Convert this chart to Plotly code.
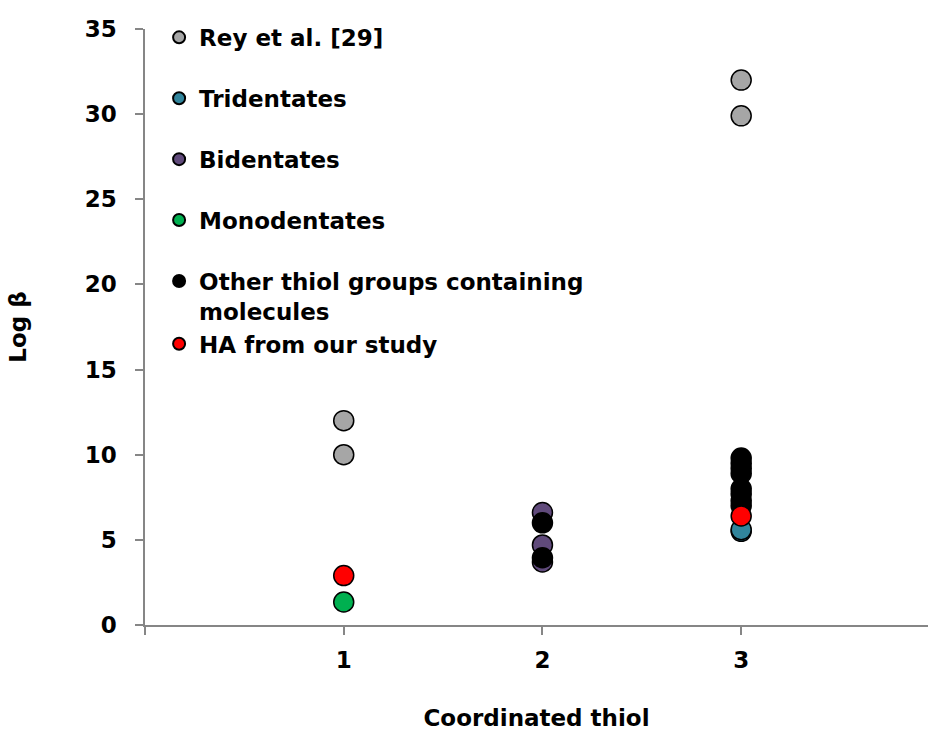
import plotly.graph_objects as go

# ---- data ----
rey_x = [1, 1, 3, 3]
rey_y = [12.0, 10.0, 32.0, 29.9]
tri_x = [3, 3]
tri_y = [5.5, 5.6]
bi_x = [2, 2, 2]
bi_y = [6.6, 4.7, 3.7]
mono_x = [1]
mono_y = [1.35]
other_x = [2, 2, 3, 3, 3, 3, 3, 3, 3, 3]
other_y = [6.0, 3.95, 9.8, 9.5, 9.2, 8.9, 8.0, 7.7, 7.3, 7.0]
ha_x = [1, 3]
ha_y = [2.9, 6.4]

x_tickvals = [0, 1, 2, 3]
x_ticktext = ["", "1", "2", "3"]
y_tickvals = [0, 5, 10, 15, 20, 25, 30, 35]

series = [
    ("Rey et al. [29]", rey_x, rey_y, "#A6A6A6", "g1"),
    ("Tridentates", tri_x, tri_y, "#31859C", "g2"),
    ("Bidentates", bi_x, bi_y, "#604A7B", "g3"),
    ("Monodentates", mono_x, mono_y, "#00B050", "g4"),
    ("Other thiol groups containing<br>molecules", other_x, other_y, "#000000", "g5"),
    ("HA from our study", ha_x, ha_y, "#FF0000", "g5"),
]

FONT = "DejaVu Sans, Liberation Sans, Arial, sans-serif"
FS = 23

fig = go.Figure()
for name, xs, ys, col, grp in series:
    fig.add_trace(go.Scatter(
        x=xs, y=ys, mode="markers", name=name, legendgroup=grp,
        marker=dict(size=20, color=col, line=dict(color="#000000", width=1.5)),
    ))

axis_col = "#868686"
fig.update_layout(
    width=928, height=731,
    margin=dict(l=145, r=0, t=29, b=106),
    paper_bgcolor="white", plot_bgcolor="white",
    font=dict(family=FONT, size=FS, color="#000000", weight="bold"),
    showlegend=True,
    legend=dict(
        x=0.018, y=1.022, xanchor="left", yanchor="top",
        bgcolor="rgba(0,0,0,0)", tracegroupgap=28, valign="top",
        itemsizing="constant",
        font=dict(family=FONT, size=FS, color="#000000", weight="bold"),
    ),
    xaxis=dict(
        range=[0, 3.94], tickvals=x_tickvals, ticktext=x_ticktext,
        showgrid=False, zeroline=False, showline=True, linecolor=axis_col, linewidth=1.5,
        ticks="outside", ticklen=8, tickcolor=axis_col, tickwidth=1.5,
        ticklabelstandoff=6,
        tickfont=dict(family=FONT, size=FS, weight="bold"),
        title=dict(text="Coordinated thiol", standoff=39,
                   font=dict(family=FONT, size=FS, weight="bold")),
    ),
    yaxis=dict(
        range=[0, 35], tickvals=y_tickvals,
        showgrid=False, zeroline=False, showline=True, linecolor=axis_col, linewidth=1.5,
        ticks="outside", ticklen=8, tickcolor=axis_col, tickwidth=1.5,
        ticklabelstandoff=14,
        tickfont=dict(family=FONT, size=FS, weight="bold"),
        title=dict(text="Log β", standoff=52,
                   font=dict(family=FONT, size=FS, weight="bold")),
    ),
)

fig.write_html("out.html", config={"displayModeBar": False},
               post_script="document.body.style.margin='0px';")
